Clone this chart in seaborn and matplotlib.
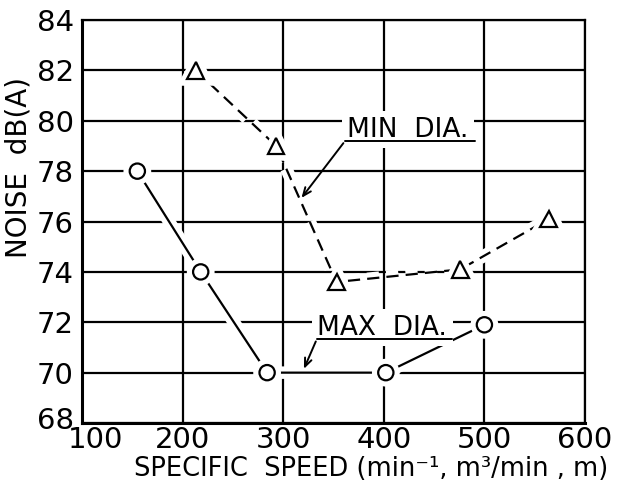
import seaborn as sns
import matplotlib.pyplot as plt
import matplotlib.patheffects as pe
import matplotlib.transforms as mtransforms
import pandas as pd

sns.set_style("white")
plt.rcParams["font.family"] = ["DejaVu Sans"]
plt.rcParams["text.color"] = "black"
plt.rcParams["axes.labelcolor"] = "black"
plt.rcParams["xtick.color"] = "black"
plt.rcParams["ytick.color"] = "black"

# data
max_x = [155, 218, 284, 402, 500]
max_y = [78.0, 74.0, 70.0, 70.0, 71.9]
min_x = [213, 293, 353, 476, 564]
min_y = [82.0, 79.0, 73.6, 74.1, 76.1]
x_ticks = [100, 200, 300, 400, 500, 600]
y_ticks = [68, 70, 72, 74, 76, 78, 80, 82, 84]

df_max = pd.DataFrame({"speed": max_x, "noise": max_y})
df_min = pd.DataFrame({"speed": min_x, "noise": min_y})

fig = plt.figure(figsize=(6.18, 4.92), dpi=100)
ax = fig.add_axes([0.1327, 0.1402, 0.8139, 0.8191])

halo = [pe.Stroke(linewidth=9, foreground="white"), pe.Normal()]

sns.lineplot(data=df_max, x="speed", y="noise", sort=False, ax=ax,
             color="black", linewidth=1.6, marker="o", markersize=11,
             markerfacecolor="white", markeredgecolor="black",
             markeredgewidth=1.6, path_effects=halo, zorder=3)
sns.lineplot(data=df_min, x="speed", y="noise", sort=False, ax=ax,
             color="black", linewidth=1.6, linestyle=(0, (5.5, 3.2)),
             marker="^", markersize=12, markerfacecolor="white",
             markeredgecolor="black", markeredgewidth=1.6,
             path_effects=halo, zorder=3)

ax.set_xlim(100, 600)
ax.set_ylim(68, 84)
ax.set_xticks(x_ticks)
ax.set_yticks(y_ticks)
ax.set_axisbelow(True)
ax.grid(True, color="black", linewidth=1.6)
ax.tick_params(length=0, labelsize=21)
ax.tick_params(axis="x", pad=2)
ax.tick_params(axis="y", pad=6)

# "100" and "68" squeeze into the corner as in the original
first_x = ax.get_xticklabels()[0]
first_x.set_transform(first_x.get_transform() +
                      mtransforms.ScaledTranslation(0.13, 0, fig.dpi_scale_trans))
first_y = ax.get_yticklabels()[0]
first_y.set_transform(first_y.get_transform() +
                      mtransforms.ScaledTranslation(0, 0.05, fig.dpi_scale_trans))

for s in ["left", "bottom"]:
    ax.spines[s].set_linewidth(2.2)
for s in ["top", "right"]:
    ax.spines[s].set_linewidth(1.6)
for s in ax.spines.values():
    s.set_color("black")
    s.set_zorder(4)

ax.set_xlabel("SPECIFIC  SPEED (min⁻¹, m³/min , m)", fontsize=18.5)
ax.set_ylabel("NOISE  dB(A)", fontsize=20)
ax.xaxis.set_label_coords(0.575, -0.082)
ax.yaxis.set_label_coords(-0.098, 0.635)

# labels with leader arrows
box = dict(facecolor="white", edgecolor="none", pad=4)
ax.text(363.5, 79.36, "MIN  DIA.", fontsize=19, ha="left", va="baseline",
        bbox=box, zorder=5)
ax.plot([361.5, 490.5], [79.2, 79.2], color="black", linewidth=1.4, zorder=6)
ax.annotate("", xy=(316.5, 76.85), xytext=(361.5, 79.2),
            arrowprops=dict(arrowstyle="->,head_length=0.6,head_width=0.25",
                            color="black", linewidth=1.4), zorder=6)

ax.text(334, 71.5, "MAX  DIA.", fontsize=19, ha="left", va="baseline",
        bbox=box, zorder=5)
ax.plot([333.5, 468], [71.34, 71.34], color="black", linewidth=1.4, zorder=6)
ax.annotate("", xy=(319.5, 70.05), xytext=(333.5, 71.34),
            arrowprops=dict(arrowstyle="->,head_length=0.6,head_width=0.25",
                            color="black", linewidth=1.4), zorder=6)

plt.savefig("out.png", dpi=100)
